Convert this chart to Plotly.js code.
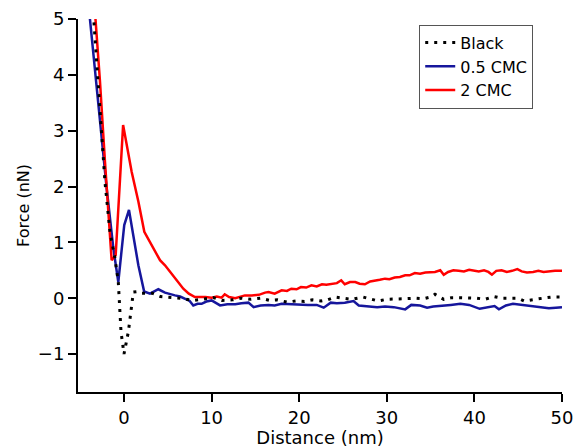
<!DOCTYPE html>
<html>
<head>
<meta charset="utf-8">
<script src="https://cdn.plot.ly/plotly-3.0.1.min.js"></script>
<style>html,body{margin:0;padding:0;background:#fff;}#chart{width:576px;height:448px;}</style>
</head>
<body>
<div id="chart"></div>
<script>
// Black (no surfactant)
var blackX = [-3.5, -2.74, -2.17, -1.6, -1.03, -0.65, -0.34, 0.0, 0.5, 1.07, 1.6, 2.06, 3.2, 4.15, 5.3, 6.5, 7.9, 9.0, 10.2, 11.2, 12.4, 13.4, 14.5, 15.6, 16.6, 17.5, 18.6, 19.6, 20.6, 21.5, 22.5, 23.2, 24.1, 25.0, 26.0, 27.3, 28.2, 29.0, 30.0, 31.0, 32.0, 33.2, 34.2, 35.0, 35.5, 36.5, 37.4, 38.4, 39.3, 40.3, 41.2, 42.2, 43.1, 44.1, 45.0, 45.7, 46.8, 47.8, 48.8, 50];
var blackY = [5.1, 3.3, 2.08, 1.19, 0.71, 0.29, -0.6, -1.0, -0.6, 0.11, 0.12, 0.09, 0.09, 0.03, 0.01, 0.0, -0.04, -0.02, 0.01, -0.04, -0.03, 0.0, -0.02, 0.0, -0.04, -0.03, -0.07, -0.05, -0.06, -0.03, -0.05, -0.03, 0.02, 0.0, -0.02, 0.02, -0.01, -0.05, -0.02, -0.02, -0.01, 0.0, -0.01, 0.02, 0.07, -0.02, 0.01, 0.01, 0.01, 0.0, -0.02, 0.03, 0.0, 0.0, 0.0, -0.05, -0.02, 0.0, 0.02, 0.02];

// 0.5 CMC
var halfX = [-3.95, -2.93, -1.98, -1.22, -0.65, 0.03, 0.57, 1.64, 2.3, 2.97, 3.5, 3.92, 4.68, 5.3, 5.82, 6.4, 6.96, 7.5, 7.91, 8.4, 8.86, 9.4, 10.0, 10.5, 10.97, 11.8, 12.7, 13.4, 14.2, 14.8, 15.6, 16.5, 17.2, 18.0, 19.0, 20.1, 21.0, 22.0, 22.8, 23.6, 24.3, 25.2, 26.2, 26.8, 27.6, 28.9, 29.8, 30.8, 32.1, 32.8, 33.8, 34.6, 35.3, 36.3, 37.3, 38.4, 39.4, 40.6, 41.4, 42.3, 42.8, 43.6, 44.4, 45.4, 46.4, 47.4, 48.5, 49.3, 50];
var halfY = [5.1, 3.46, 1.97, 0.9, 0.29, 1.31, 1.58, 0.59, 0.12, 0.08, 0.13, 0.16, 0.1, 0.08, 0.05, 0.03, -0.01, -0.05, -0.13, -0.1, -0.1, -0.06, -0.04, -0.09, -0.13, -0.11, -0.11, -0.09, -0.08, -0.16, -0.13, -0.12, -0.13, -0.1, -0.11, -0.12, -0.12, -0.12, -0.17, -0.08, -0.09, -0.08, -0.05, -0.13, -0.14, -0.16, -0.15, -0.16, -0.2, -0.12, -0.13, -0.17, -0.15, -0.14, -0.12, -0.1, -0.12, -0.19, -0.17, -0.14, -0.2, -0.13, -0.1, -0.12, -0.14, -0.16, -0.18, -0.17, -0.16];

// 2 CMC
var twoX = [-3.3, -2.74, -2.17, -1.41, -0.95, -0.1, 0.88, 1.64, 2.32, 3.35, 4.11, 4.68, 5.82, 6.77, 7.4, 8.1, 9.3, 10.0, 10.6, 11.15, 11.5, 12.0, 12.7, 13.3, 13.8, 14.6, 15.4, 16.1, 16.5, 17.2, 18.0, 18.6, 19.1, 19.7, 20.2, 20.8, 21.4, 22.0, 22.6, 23.1, 23.7, 24.3, 24.8, 25.2, 25.8, 26.4, 26.9, 27.5, 28.1, 28.7, 29.2, 29.8, 30.3, 30.9, 31.5, 32.1, 32.6, 33.2, 33.8, 34.4, 34.9, 35.5, 36.1, 36.5, 37.0, 37.6, 38.2, 38.8, 39.4, 39.9, 40.5, 41.1, 41.6, 42.0, 42.5, 43.1, 43.7, 44.3, 44.9, 45.4, 46.0, 46.7, 47.3, 47.9, 48.5, 49.2, 50];
var twoY = [5.1, 3.88, 2.44, 0.68, 0.77, 3.1, 2.26, 1.73, 1.19, 0.89, 0.68, 0.59, 0.35, 0.17, 0.08, 0.02, 0.02, 0.01, 0.03, 0.01, 0.07, 0.02, 0.0, 0.03, 0.05, 0.05, 0.06, 0.1, 0.11, 0.08, 0.14, 0.13, 0.17, 0.16, 0.2, 0.19, 0.23, 0.21, 0.25, 0.24, 0.26, 0.27, 0.32, 0.25, 0.29, 0.29, 0.26, 0.25, 0.3, 0.31, 0.33, 0.35, 0.34, 0.37, 0.38, 0.41, 0.41, 0.45, 0.44, 0.46, 0.47, 0.47, 0.5, 0.42, 0.47, 0.5, 0.49, 0.48, 0.51, 0.5, 0.48, 0.5, 0.47, 0.42, 0.49, 0.5, 0.47, 0.49, 0.52, 0.48, 0.46, 0.47, 0.49, 0.47, 0.48, 0.49, 0.49];

var seriesNames = ['Black', '0.5 CMC', '2 CMC'];
var xTicks = [0, 10, 20, 30, 40, 50];
var yTicks = [-1, 0, 1, 2, 3, 4, 5];

var FONT = 'DejaVu Sans, Arial, sans-serif';

var traces = [
  {x: halfX, y: halfY, name: seriesNames[1], type: 'scatter', mode: 'lines',
   line: {color: '#16169c', width: 2.5}, legendrank: 2},
  {x: twoX, y: twoY, name: seriesNames[2], type: 'scatter', mode: 'lines',
   line: {color: '#ff0000', width: 2.5}, legendrank: 3},
  {x: blackX, y: blackY, name: seriesNames[0], type: 'scatter', mode: 'lines',
   line: {color: '#000000', width: 3, dash: '3px,6px'}, legendrank: 1}
];

var axisCommon = {
  showline: true, linecolor: '#000', linewidth: 2,
  ticks: 'outside', ticklen: 8, tickwidth: 2, tickcolor: '#000',
  showgrid: false, zeroline: false,
  tickfont: {family: FONT, size: 18, color: '#000'},
  automargin: false
};

var layout = {
  width: 576, height: 448,
  margin: {l: 78, r: 14, t: 19, b: 56, pad: 0},
  paper_bgcolor: '#fff', plot_bgcolor: '#fff',
  showlegend: true,
  legend: {
    x: 0.705, y: 0.985, xanchor: 'left', yanchor: 'top',
    bgcolor: '#fff', bordercolor: '#555', borderwidth: 1,
    font: {family: FONT, size: 16, color: '#000'},
    entrywidth: 134, entrywidthmode: 'pixels',
    traceorder: 'normal'
  },
  xaxis: Object.assign({}, axisCommon, {
    range: [-5.25, 50], tickvals: xTicks, ticktext: xTicks.map(String),
    title: {text: 'Distance (nm)', font: {family: FONT, size: 18, color: '#000'}, standoff: 0}
  }),
  yaxis: Object.assign({}, axisCommon, {
    range: [-1.68, 5], tickvals: yTicks,
    title: {text: 'Force (nN)', font: {family: FONT, size: 16, color: '#000'}, standoff: 4}
  })
};

Plotly.newPlot('chart', traces, layout, {displayModeBar: false, staticPlot: true});
</script>
</body>
</html>
